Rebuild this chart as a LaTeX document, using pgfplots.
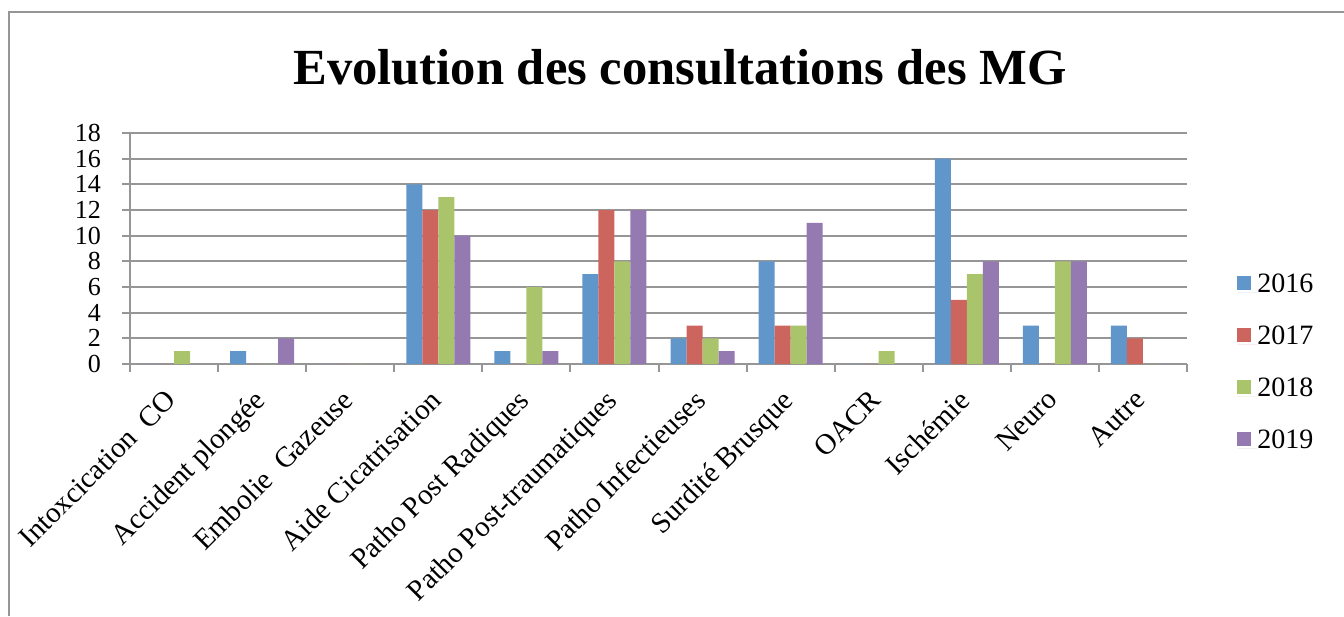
\documentclass[border=0pt]{standalone}
\usepackage{fontspec}
\setmainfont{Liberation Serif}
\usepackage{pgfplots}
\pgfplotsset{compat=1.18}

\definecolor{cA}{HTML}{6096CA}
\definecolor{cB}{HTML}{CD655F}
\definecolor{cC}{HTML}{AAC46C}
\definecolor{cD}{HTML}{957AB1}
\definecolor{gridc}{HTML}{969696}

\begin{document}
\begin{tikzpicture}
\useasboundingbox (0,0) rectangle (672pt,308pt);
% chart frame (cropped on right and bottom)
\draw[gridc, line width=1.2pt] (4.5pt,0) -- (4.5pt,302pt) -- (672pt,302pt);

\node[font=\fontsize{25.3}{30}\selectfont\bfseries, anchor=base] at (340pt,265.5pt) {Evolution des consultations des MG};

\begin{axis}[
    at={(65pt,126pt)}, anchor=south west,
    scale only axis,
    width=528.5pt, height=115.5pt,
    xmin=-0.5, xmax=11.5,
    ymin=0, ymax=18,
    ytick={0,2,...,18},
    xtick={0,...,11},
    xticklabels={Intoxcication~\ CO, Accident plongée, Embolie~\ Gazeuse, Aide Cicatrisation, Patho Post Radiques, Patho Post-traumatiques, Patho Infectieuses, Surdité Brusque, OACR, Ischémie, Neuro, Autre},
    minor xtick={-0.5,0.5,...,11.5},
    major x tick style={draw=none},
    minor x tick style={gridc, line width=1pt},
    major y tick style={gridc, line width=1pt},
    tick align=outside,
    major tick length=4pt, minor tick length=4pt,
    axis x line*=bottom, axis y line*=left,
    axis line style={gridc, line width=1pt, -},
    ymajorgrids,
    grid style={gridc, line width=1pt},
    /pgf/number format/assume math mode=true,
    y tick label style={font=\fontsize{13}{15}\selectfont, xshift=-7pt},
    x tick label style={font=\fontsize{14.5}{16}\selectfont, rotate=45, anchor=north east, inner sep=0pt, xshift=-9pt, yshift=-2pt},
    ybar=0pt, bar width=8pt,
    legend style={at={(1.0473,0.0)}, anchor=west, draw=none, fill=none, inner sep=0pt,
        row sep=13pt, font=\fontsize{14}{16}\selectfont,
        nodes={text height=9.5pt, text depth=3.5pt, inner sep=0pt, anchor=base west}},
    legend cell align=left,
    legend image code/.code={\fill[#1, draw=none] (0pt,1.1pt) rectangle (7pt,8.1pt); \path (0pt,0pt) -- (10pt,0pt);},
]
\addplot[fill=cA, draw=none] coordinates {
    (0,0) (1,1) (2,0) (3,14) (4,1) (5,7) (6,2) (7,8) (8,0) (9,16) (10,3) (11,3)};
\addplot[fill=cB, draw=none] coordinates {
    (0,0) (1,0) (2,0) (3,12) (4,0) (5,12) (6,3) (7,3) (8,0) (9,5) (10,0) (11,2)};
\addplot[fill=cC, draw=none] coordinates {
    (0,1) (1,0) (2,0) (3,13) (4,6) (5,8) (6,2) (7,3) (8,1) (9,7) (10,8) (11,0)};
\addplot[fill=cD, draw=none] coordinates {
    (0,0) (1,2) (2,0) (3,10) (4,1) (5,12) (6,1) (7,11) (8,0) (9,8) (10,8) (11,0)};
\legend{2016,2017,2018,2019}
\end{axis}
\end{tikzpicture}
\end{document}
